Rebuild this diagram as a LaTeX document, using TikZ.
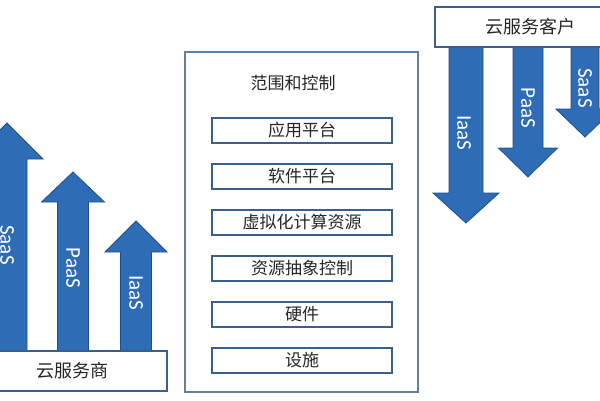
\documentclass[tikz,border=0pt]{standalone}
\usepackage{fontspec}
\setmainfont{Carlito}
\newfontfamily\cjk{Noto Sans CJK SC}
\definecolor{arrfill}{HTML}{2E6CB5}
\definecolor{arrline}{HTML}{1F4E8C}
\definecolor{boxline}{HTML}{3A5F8A}
\definecolor{txt}{HTML}{262626}
\tikzset{
  arr/.style={fill=arrfill,draw=arrline,line width=0.8pt,line join=miter},
  lbl/.style={text=white,font=\fontsize{21}{21}\selectfont,rotate=-90,inner sep=0pt},
  cbox/.style={draw=boxline,line width=1.1pt,fill=white},
  ctext/.style={text=txt,font=\cjk\fontsize{17}{17}\selectfont,inner sep=0pt},
  bigtext/.style={ctext,font=\cjk\fontsize{18}{18}\selectfont},
}
% arrow: tip x, tip y, head half width, shaft half width, head base y, end y
\newcommand\myarrow[6]{%
  \path[arr] (#1,#2) -- (#1+#3,#5) -- (#1+#4,#5) -- (#1+#4,#6) -- (#1-#4,#6) -- (#1-#4,#5) -- (#1-#3,#5) -- cycle;}
\begin{document}
\begin{tikzpicture}[x=1pt,y=-1pt]
\useasboundingbox (0,0) rectangle (600,400);
\begin{scope}
\clip (0,0) rectangle (600,400);
% left up arrows
\myarrow{7}{123}{36}{20}{159}{352}
\myarrow{73}{172}{31.5}{15.5}{202}{352}
\myarrow{136}{221}{31}{15.5}{252}{352}
\node[lbl] (ls) at (7,245) {SaaS};
\node[lbl] (lp) at (73,268) {PaaS};
\node[lbl] (li) at (136,293) {IaaS};
\path[cbox] (-5,351) rectangle (167,391);
\node[bigtext] (prov) at (72,371) {云服务商};
% right down arrows
\myarrow{466}{223}{33}{17}{193}{46}
\myarrow{528}{177}{29.5}{15}{148}{46}
\myarrow{585}{137}{29}{14}{109}{46}
\node[lbl] (ri) at (464,133) {IaaS};
\node[lbl] (rp) at (528,108) {PaaS};
\node[lbl] (rs) at (585,88) {SaaS};
\path[cbox] (435,7) rectangle (605,47);
\node[bigtext] (cust) at (530,27) {云服务客户};
% middle
\path[cbox,draw=boxline!80] (185,52) rectangle (418,392);
\node[ctext] (title) at (293,83) {范围和控制};
\foreach \t/\y/\n in {应用平台/118/a,软件平台/164/b,虚拟化计算资源/210/c,资源抽象控制/256/d,硬件/302/e,设施/348/f}{
  \path[cbox] (212,\y) rectangle (392,\y+25);
  \node[ctext] (layer\n) at (302,\y+12.5) {\t};
}
\end{scope}
\end{tikzpicture}
\end{document}
